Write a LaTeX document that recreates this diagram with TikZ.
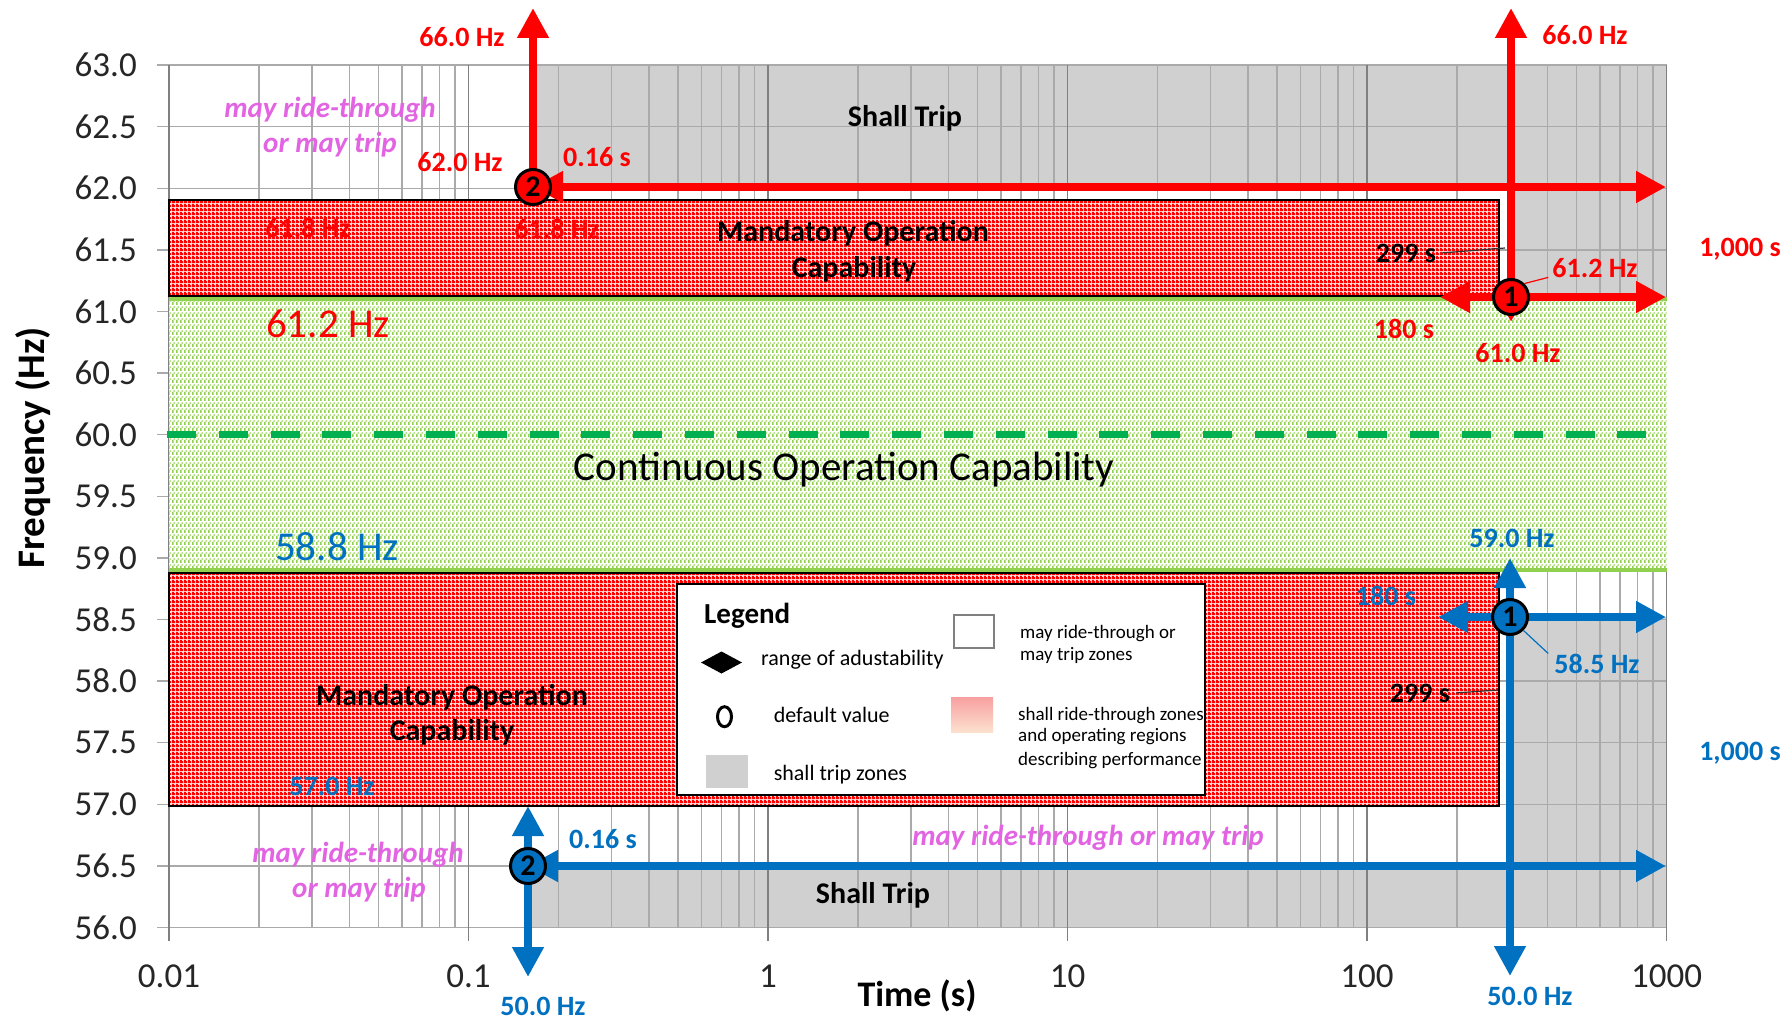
\documentclass[tikz,border=0pt]{standalone}
\usepackage{fontspec}
\setmainfont{Carlito}
\usetikzlibrary{arrows.meta,patterns}
\definecolor{tripgray}{RGB}{208,208,208}
\definecolor{gridgray}{RGB}{170,170,170}
\definecolor{decgray}{RGB}{128,128,128}
\definecolor{eblue}{RGB}{0,112,192}
\definecolor{ered}{RGB}{255,0,0}
\definecolor{lgreen}{RGB}{146,208,80}
\definecolor{dgreen}{RGB}{0,176,80}
\definecolor{mag}{RGB}{226,100,226}
\definecolor{gradtop}{RGB}{248,160,160}
\definecolor{gradmid}{RGB}{210,234,190}
\definecolor{gradbot}{RGB}{252,224,206}
\definecolor{redbase}{RGB}{255,215,215}
\pgfdeclarepatternformonly{redck}{\pgfqpoint{0pt}{0pt}}{\pgfqpoint{4pt}{4pt}}{\pgfqpoint{4pt}{4pt}}{%
  \pgfpathrectangle{\pgfqpoint{0pt}{0pt}}{\pgfqpoint{4pt}{2.3pt}}%
  \pgfpathrectangle{\pgfqpoint{0pt}{2.3pt}}{\pgfqpoint{2.4pt}{1.7pt}}%
  \pgfusepath{fill}}
\pgfdeclarepatternformonly{grdash}{\pgfqpoint{0pt}{0pt}}{\pgfqpoint{4pt}{6pt}}{\pgfqpoint{4pt}{6pt}}{%
  \pgfpathrectangle{\pgfqpoint{0pt}{0pt}}{\pgfqpoint{2pt}{3.6pt}}%
  \pgfpathrectangle{\pgfqpoint{2pt}{4pt}}{\pgfqpoint{2pt}{1.4pt}}%
  \pgfusepath{fill}}
\newcommand\fsz[1]{\fontsize{#1}{#1}\selectfont}
\begin{document}
\begin{tikzpicture}[x=1pt,y=-1pt,
  >={Triangle[length=30pt,width=30pt]},
  tk/.style={font=\fsz{35}, text=black!85, inner sep=0pt},
  lab/.style={font=\fsz{28}\bfseries, inner sep=0pt, anchor=base},
  rl/.style={lab, text=ered},
  bl/.style={lab, text=eblue},
  kl/.style={lab, text=black},
  mg/.style={font=\fsz{29}\bfseries\itshape, text=mag, inner sep=0pt, anchor=base},
  bigl/.style={font=\fsz{41}, inner sep=0pt, anchor=base},
  zone/.style={font=\fsz{30}\bfseries, inner sep=0pt, anchor=base},
  leg/.style={font=\fsz{22}, inner sep=0pt, anchor=base west},
  legs/.style={font=\fsz{19}, inner sep=0pt, anchor=base west},
  circ/.style={circle, draw=black, line width=3, minimum size=35pt, inner sep=0pt, font=\fsz{30}\bfseries},
  redarr/.style={draw=ered, line width=8},
  bluearr/.style={draw=eblue, line width=8},
  grid line/.style={gridgray, line width=1.5},
]
\useasboundingbox (0,0) rectangle (1791,1019);
\fill[white] (0,0) rectangle (1791,1019);

% shall trip zones
\fill[tripgray] (533,65.1) -- (1666.5,65.1) -- (1666.5,297) -- (1511,297) -- (1511,187) -- (533,187) -- cycle;
\fill[tripgray] (528,866) -- (1510,866) -- (1510,617) -- (1666.5,617) -- (1666.5,927.9) -- (528,927.9) -- cycle;

% grid
\foreach \i in {0,...,14} {
  \pgfmathsetmacro\yy{65.1+61.6*\i}
  \draw[grid line] (157,\yy) -- (1666.5,\yy);
}
\foreach \d in {0,...,4} {
  \foreach \k in {2,...,9} {
    \pgfmathsetmacro\xx{169+299.5*(\d+log10(\k))}
    \draw[grid line] (\xx,65.1) -- (\xx,927.9);
  }
}
\foreach \d in {0,...,5} {
  \pgfmathsetmacro\xx{169+299.5*\d}
  \draw[decgray, line width=1.5] (\xx,65.1) -- (\xx,941);
}

% tick labels
\foreach \v [count=\i from 0] in {63.0,62.5,62.0,61.5,61.0,60.5,60.0,59.5,59.0,58.5,58.0,57.5,57.0,56.5,56.0} {
  \node[tk, anchor=east] (ty\i) at (137,{65.1+61.6*\i}) {\v};
}
\foreach \v [count=\i from 0] in {0.01,0.1,1,10,100,1000} {
  \node[tk] (tx\i) at ({169+299.5*\i},976) {\v};
}
\node[font=\fsz{39}\bfseries, rotate=90, inner sep=0pt] (ylab) at (33,448) {Frequency (Hz)};
\node[font=\fsz{36}\bfseries, inner sep=0pt, anchor=base] (xlab) at (917,1006) {Time (s)};

% continuous operation band
\fill[white] (169,297) rectangle (1666.5,571);
\fill[pattern=grdash, pattern color=lgreen] (169,297) rectangle (1666.5,571);
\draw[lgreen, line width=4] (169,299) -- (1666.5,299);
\draw[lgreen, line width=4] (169,569.5) -- (1666.5,569.5);

% mandatory operation boxes
\fill[redbase] (169,200) rectangle (1499,296);
\draw[pattern=redck, pattern color=ered, draw=black, line width=1.5] (169,200) rectangle (1499,296);
\fill[redbase] (169,573) rectangle (1499,806);
\draw[pattern=redck, pattern color=ered, draw=black, line width=1.5] (169,573) rectangle (1499,806);

% 60 Hz dashed line
\draw[dgreen, line width=7, dash pattern=on 29pt off 22.8pt] (167,434.7) -- (1646,434.7);

% legend
\draw[black, line width=2, fill=white] (677,584) rectangle (1205,795);
\node[font=\fsz{29}\bfseries, inner sep=0pt, anchor=base west] (legt) at (704,623) {Legend};
\fill[black] (701,662.5) -- (721.5,651.5) -- (742,662.5) -- (721.5,673.5) -- cycle;
\node[leg] (leg1) at (761,665) {range of adustability};
\draw[black, line width=3] (724.5,716.7) ellipse [x radius=7, y radius=10];
\node[leg] (leg2) at (773.6,722.7) {default value};
\fill[tripgray] (706,755) rectangle (748,788);
\node[leg] (leg3) at (773.6,780) {shall trip zones};
\draw[decgray, line width=2, fill=white] (953.6,615) rectangle (993.6,648);
\node[legs] (leg4a) at (1020,638) {may ride-through or};
\node[legs] (leg4b) at (1020,660.7) {may trip zones};
\shade[top color=gradtop, middle color=gradmid, bottom color=gradbot] (951,697) rectangle (993,732);
\node[legs] (leg5a) at (1018,720) {shall ride-through zones};
\node[legs] (leg5b) at (1018,741) {and operating regions};
\node[legs] (leg5c) at (1018,765) {describing performance};

% zone texts
\node[zone] (st1) at (905,127) {Shall Trip};
\node[zone] (moc1a) at (853,242) {Mandatory Operation};
\node[zone] (moc1b) at (854,277) {Capability};
\node[zone] (moc2a) at (452,705) {Mandatory Operation};
\node[zone] (moc2b) at (452,740) {Capability};
\node[zone] (st2) at (873,903) {Shall Trip};
\node[bigl] (coc) at (844,480) {Continuous Operation Capability};
\node[bigl, text=ered] (t612) at (328,337) {61.2 Hz};
\node[bigl, text=eblue] (t588) at (337,560) {58.8 Hz};
\node[rl] (t618a) at (308,237) {61.8 Hz};
\node[rl] (t618b) at (557,238) {61.8 Hz};
\node[bl] (t570) at (332,795) {57.0 Hz};
\node[mg] (m1a) at (330,118) {may ride-through};
\node[mg] (m1b) at (330,153) {or may trip};
\node[mg] (m2a) at (358,862) {may ride-through};
\node[mg] (m2b) at (359,897) {or may trip};
\node[mg] (m3) at (1088,845) {may ride-through or may trip};

% arrows
\coordinate (cr2) at (533,187);
\coordinate (cr2u) at (533,8);
\coordinate (cr2r) at (1666,187);
\coordinate (cr1) at (1511,297);
\coordinate (cr1u) at (1511,8);
\coordinate (cr1d) at (1511,322);
\coordinate (cr1l) at (1440,297);
\coordinate (cr1r) at (1666,297);
\coordinate (cb2) at (528,866);
\coordinate (cb2u) at (528,806);
\coordinate (cb2d) at (528,977);
\coordinate (cb2r) at (1666,866);
\coordinate (cb1) at (1510,617);
\coordinate (cb1u) at (1510,558);
\coordinate (cb1d) at (1510,976);
\coordinate (cb1l) at (1438,617);
\coordinate (cb1r) at (1666,617);

\draw[redarr, ->] (cr2) -- (cr2u);
\draw[redarr, <->] (cr2) -- (cr2r);
\draw[redarr, <->] (cr1d) -- (cr1u);
\draw[redarr, <->] (cr1l) -- (cr1r);
\draw[bluearr, <->] (cb2u) -- (cb2d);
\draw[bluearr, <->] (cb2) -- (cb2r);
\draw[bluearr, <->] (cb1u) -- (cb1d);
\draw[bluearr, <->] (cb1l) -- (cb1r);

% circles
\node[circ, fill=ered] (r2) at (cr2) {2};
\node[circ, fill=ered] (r1) at (cr1) {1};
\node[circ, fill=eblue] (b2) at (cb2) {2};
\node[circ, fill=eblue] (b1) at (cb1) {1};

% labels
\node[rl] (t66a) at (462,47) {66.0 Hz};
\node[rl] (t66b) at (1585,45) {66.0 Hz};
\node[rl] (t62) at (460,172) {62.0 Hz};
\node[rl] (t016r) at (597,167) {0.16 s};
\node[kl] (t299a) at (1406,262) {299 s};
\node[rl] (t612s) at (1595,277) {61.2 Hz};
\node[rl] (t1000r) at (1740,257) {1,000 s};
\node[rl] (t180r) at (1404,338) {180 s};
\node[rl] (t610) at (1518,362) {61.0 Hz};
\node[bl] (t590) at (1512,547) {59.0 Hz};
\node[bl] (t180b) at (1386,605) {180 s};
\node[bl] (t585) at (1597,673) {58.5 Hz};
\node[kl] (t299b) at (1420,702) {299 s};
\node[bl] (t1000b) at (1740,760) {1,000 s};
\node[bl] (t016b) at (603,848) {0.16 s};
\node[bl] (t50a) at (543,1015) {50.0 Hz};
\node[bl] (t50b) at (1530,1005) {50.0 Hz};

% leader lines
\coordinate (p299a) at (1505,248);
\coordinate (p299b) at (1498,690);
\draw[black!80, line width=1.2] ([xshift=6pt]t299a.east) -- (p299a);
\draw[black!80, line width=1.2] ([xshift=6pt]t299b.east) -- (p299b);
\draw[ered, line width=1.2] (r1.north east) -- ([xshift=-4pt]t612s.south west);
\draw[eblue, line width=1.2] (b1.south east) -- ([xshift=-6pt]t585.north west);
\end{tikzpicture}
\end{document}
